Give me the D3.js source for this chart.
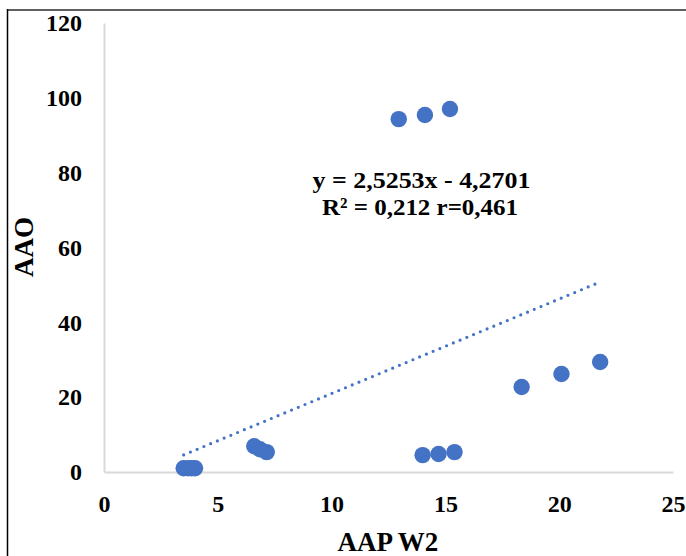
<!DOCTYPE html>
<html><head><meta charset="utf-8">
<script src="https://cdn.jsdelivr.net/npm/d3@7"></script>
<style>body{margin:0;background:#fff}svg{display:block}text{font-family:"Liberation Serif","Times New Roman",serif;font-weight:bold;fill:#000}</style>
</head><body>
<script>
const xValues = [3.5, 3.7, 3.85, 4.0, 6.6, 6.85, 7.15, 12.95, 14.1, 15.2, 14.0, 14.7, 15.4, 18.35, 20.1, 21.8];
const yValues = [1, 1, 1, 1, 6.9, 6.1, 5.3, 94.3, 95.4, 97.0, 4.5, 4.8, 5.3, 22.7, 26.2, 29.4];
const xTicks = [0, 5, 10, 15, 20, 25];
const yTicks = [0, 20, 40, 60, 80, 100, 120];
const trend = {slope: 2.5253, intercept: -4.2701};
const eqLines = ["y = 2,5253x - 4,2701", "R² = 0,212 r=0,461"];
const xTitle = "AAP W2", yTitle = "AAO";

const W = 686, H = 556;
const svg = d3.select("body").append("svg").attr("width", W).attr("height", H);
const x = d3.scaleLinear().domain([0, 25]).range([104, 673]);
const y = d3.scaleLinear().domain([0, 120]).range([472, 23]);

// frame lines
svg.append("line").attr("x1", 7).attr("x2", W).attr("y1", 10).attr("y2", 10).attr("stroke", "#606060").attr("stroke-width", 2);
svg.append("line").attr("x1", 7.5).attr("x2", 7.5).attr("y1", 9).attr("y2", H).attr("stroke", "#000").attr("stroke-width", 1.5);

// axes
const gx = svg.append("g").attr("transform", "translate(0,472)")
  .call(d3.axisBottom(x).tickValues(xTicks).tickSize(0).tickPadding(23).tickFormat(d3.format("d")));
gx.select(".domain").attr("stroke", "#d9d9d9").attr("stroke-width", 2);
gx.selectAll("text").style("font-size", "24px").style("font-family", "Liberation Serif").style("font-weight", "bold");

const gy = svg.append("g").attr("transform", "translate(104,0)")
  .call(d3.axisLeft(y).tickValues(yTicks).tickSize(0).tickPadding(22).tickFormat(d3.format("d")));
gy.select(".domain").attr("stroke", "#d9d9d9").attr("stroke-width", 2);
gy.selectAll("text").style("font-size", "24px").style("font-family", "Liberation Serif").style("font-weight", "bold");

// trendline
const x0 = d3.min(xValues), x1 = d3.max(xValues);
svg.append("line")
  .attr("x1", x(x0)).attr("y1", y(trend.slope * x0 + trend.intercept))
  .attr("x2", x(x1)).attr("y2", y(trend.slope * x1 + trend.intercept))
  .attr("stroke", "#4472C4").attr("stroke-width", 3.2)
  .attr("stroke-linecap", "round").attr("stroke-dasharray", "0,7.3");

// points
svg.append("g").selectAll("circle").data(xValues.map((v, i) => [v, yValues[i]])).join("circle")
  .attr("cx", d => x(d[0])).attr("cy", d => y(d[1])).attr("r", 8.2).attr("fill", "#4472C4");

// equation
svg.append("text").attr("x", 421.5).attr("y", 188).attr("text-anchor", "middle").style("font-size", "24px")
  .attr("textLength", 218).attr("lengthAdjust", "spacingAndGlyphs").text(eqLines[0]);
svg.append("text").attr("x", 420).attr("y", 215).attr("text-anchor", "middle").style("font-size", "24px")
  .attr("textLength", 196).attr("lengthAdjust", "spacingAndGlyphs").text(eqLines[1]);

// titles
svg.append("text").attr("x", 388).attr("y", 551).attr("text-anchor", "middle").style("font-size", "27px").text(xTitle);
svg.append("text").attr("transform", "translate(33,247) rotate(-90)").attr("text-anchor", "middle").style("font-size", "27px").text(yTitle);
</script>
</body></html>
